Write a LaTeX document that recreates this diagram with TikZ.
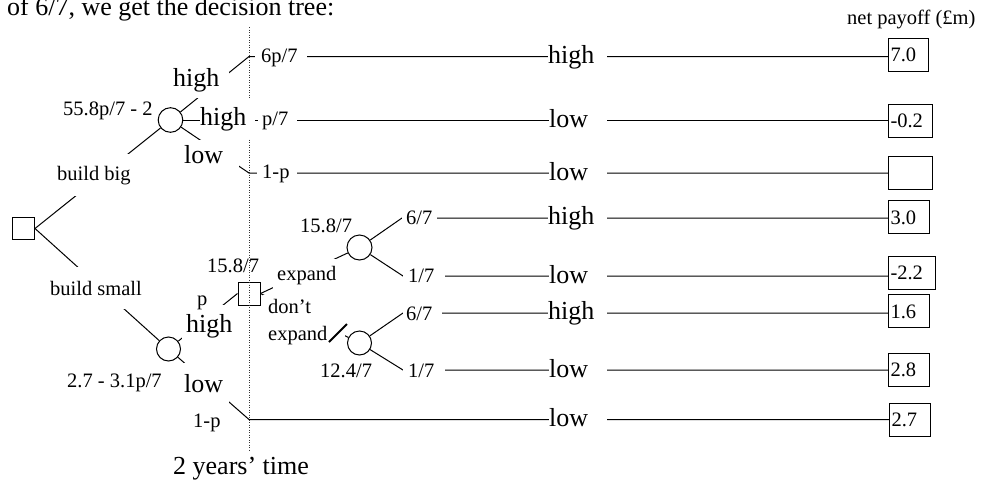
\documentclass[tikz,border=0pt]{standalone}
\usepackage{fontspec}
\setmainfont{Liberation Serif}
\newcommand\fB{\fontsize{26}{30}\selectfont}
\newcommand\fS{\fontsize{20.5}{27}\selectfont}
\tikzset{
  conn/.style={line width=1pt},
  wl/.style={fill=white, inner xsep=0pt, anchor=base west, align=left},
  wf/.style={fill=white, anchor=base west},
  tl/.style={inner sep=0pt, anchor=base west},
  payoff/.style={draw, line width=1pt, minimum height=33pt, inner xsep=2pt, inner ysep=0pt,
    text height=14pt, text depth=0pt, anchor=west, align=left, font=\fS},
  chance/.style={circle, draw, line width=1pt, inner sep=0pt},
  decision/.style={rectangle, draw, line width=1pt, inner sep=0pt},
  timeline/.style={line width=0.8pt, dash pattern=on 1pt off 1.5pt, black!80},
}
\begin{document}
\begin{tikzpicture}[x=1pt,y=-1pt]
\useasboundingbox (0,0) rectangle (981,482);
\clip (0,0) rectangle (981,482);

% payoff boxes
\node[payoff, text width=36pt] (p1) at (888,54.5) {7.0};
\node[payoff, text width=40pt] (p2) at (888,120.5) {-0.2};
\node[payoff, text width=40pt] (p3) at (888,172.5) {};
\node[payoff, text width=37pt] (p4) at (888,217) {3.0};
\node[payoff, text width=43pt] (p5) at (888,272.5) {-2.2};
\node[payoff, text width=37pt] (p6) at (888,311) {1.6};
\node[payoff, text width=37pt] (p7) at (888,369.5) {2.8};
\node[payoff, text width=37pt] (p8) at (889,419.5) {2.7};

% decision and chance nodes
\node[decision, minimum size=22pt] (sq) at (23.5,228.5) {};
\node[chance, minimum size=24.6pt] (c1) at (170.5,120) {};
\node[chance, minimum size=24pt] (cs) at (168.5,349) {};
\node[decision, minimum width=22pt, minimum height=23pt] (sq2) at (249,293.5) {};
\node[chance, minimum size=25pt] (c2) at (359.5,247.5) {};
\node[chance, minimum size=24pt] (c3) at (359.5,343) {};

% coordinates
\coordinate (dt) at (249,27);
\coordinate (db) at (249,450);
\coordinate (h1) at (249,56.5);
\coordinate (h3) at (249,173);
\coordinate (h8) at (249,419.5);
\coordinate (e4) at (402,218);
\coordinate (e5) at (403,276);
\coordinate (e6) at (403,313);
\coordinate (e7) at (403,370);
\coordinate (s1) at (329,342);
\coordinate (s2) at (347,324);

% time line
\draw[timeline] (dt) -- (db);

% connectors
\draw[conn] (sq.east) -- (c1);
\draw[conn] (sq.east) -- (cs);
\draw[conn] (c1) -- (h1) -- (h1 -| p1.west);
\draw[conn] (c1.east) -- (c1.east -| p2.west);
\draw[conn] (c1) -- (h3) -- (h3 -| p3.west);
\draw[conn] (cs) -- (sq2.west);
\draw[conn] (cs) -- (h8) -- (h8 -| p8.west);
\draw[conn] (sq2.east) -- (c2);
\draw[conn] (sq2.east) -- (c3);
\draw[conn] (c2) -- (e4) -- (e4 -| p4.west);
\draw[conn] (c2) -- (e5) -- (e5 -| p5.west);
\draw[conn] (c3) -- (e6) -- (e6 -| p6.west);
\draw[conn] (c3) -- (e7) -- (e7 -| p7.west);

% white labels on branches
\node[wl, text width=56pt, inner ysep=6pt, font=\fB] at (173,86) {high};
\node[wl, text width=55pt, inner ysep=8pt, font=\fB] at (200,125) {high};
\node[wl, text width=55pt, inner ysep=5pt, font=\fB] at (184,163) {low};
\node[wl, text width=52pt, inner ysep=3pt, font=\fS] at (255,62) {\hspace*{6pt}6p/7};
\node[wl, text width=39pt, inner ysep=3pt, font=\fS] at (258,125) {\hspace*{4pt}p/7};
\node[wl, text width=40pt, inner ysep=3pt, font=\fS] at (257,178) {\hspace*{5pt}1-p};

\node[wl, text width=35pt, inner ysep=3pt, font=\fS] at (402,224) {\hspace*{4pt}6/7};
\node[wl, text width=42pt, inner ysep=3pt, font=\fS] at (403,282) {\hspace*{5pt}1/7};
\node[wl, text width=39pt, inner ysep=3pt, font=\fS] at (403,320) {\hspace*{3pt}6/7};
\node[wl, text width=42pt, inner ysep=3pt, font=\fS] at (403,377) {\hspace*{5pt}1/7};

% middle column labels
\node[wl, text width=59pt, inner ysep=2pt, font=\fB] at (548,63) {high};
\node[wl, text width=58pt, inner ysep=2pt, font=\fB] at (549,127) {low};
\node[wl, text width=58pt, inner ysep=2pt, font=\fB] at (549,180) {low};
\node[wl, text width=59pt, inner ysep=2pt, font=\fB] at (548,224.5) {high};
\node[wl, text width=58pt, inner ysep=2pt, font=\fB] at (549,283) {low};
\node[wl, text width=59pt, inner ysep=2pt, font=\fB] at (548,319.5) {high};
\node[wl, text width=58pt, inner ysep=2pt, font=\fB] at (549,377) {low};
\node[wl, text width=58pt, inner ysep=2pt, font=\fB] at (549,426.5) {low};

% other white labels
\node[wf, inner xsep=2pt, inner ysep=11.5pt, font=\fS] at (55,180) {build big};
\node[wf, inner xsep=2pt, inner ysep=13.5pt, font=\fS] at (48,295) {build small};
\node[wf, inner xsep=4pt, inner ysep=9pt, font=\fB] at (182,332) {high};
\node[wf, inner xsep=6pt, inner ysep=11pt, font=\fB] at (178,392) {low};
\node[wf, inner xsep=4pt, inner ysep=7pt, font=\fS] at (273,280) {expand};
\node[fill=white, anchor=north west, inner xsep=5pt, inner ysep=4pt, text width=72pt,
  align=left, font=\fS] at (263,295) {don’t\\expand};
\draw[line width=2pt] (s1) -- (s2);

% plain labels
\node[tl, font=\fS] at (63,115) {55.8p/7 - 2};
\node[tl, font=\fS] at (67,387) {2.7 - 3.1p/7};
\node[tl, font=\fS] at (207,272) {15.8/7};
\node[tl, font=\fS] at (197,305) {p};
\node[tl, font=\fS] at (193,427) {1-p};
\node[tl, font=\fS] at (300,232) {15.8/7};
\node[tl, font=\fS] at (320,377) {12.4/7};
\node[tl, font=\fS] at (847,24) {net payoff (£m)};
\node[tl, font=\fB] at (173,474) {2 years’ time};
\node[tl, font=\fB] at (7,15) {of 6/7, we get the decision tree:};
\end{tikzpicture}
\end{document}
